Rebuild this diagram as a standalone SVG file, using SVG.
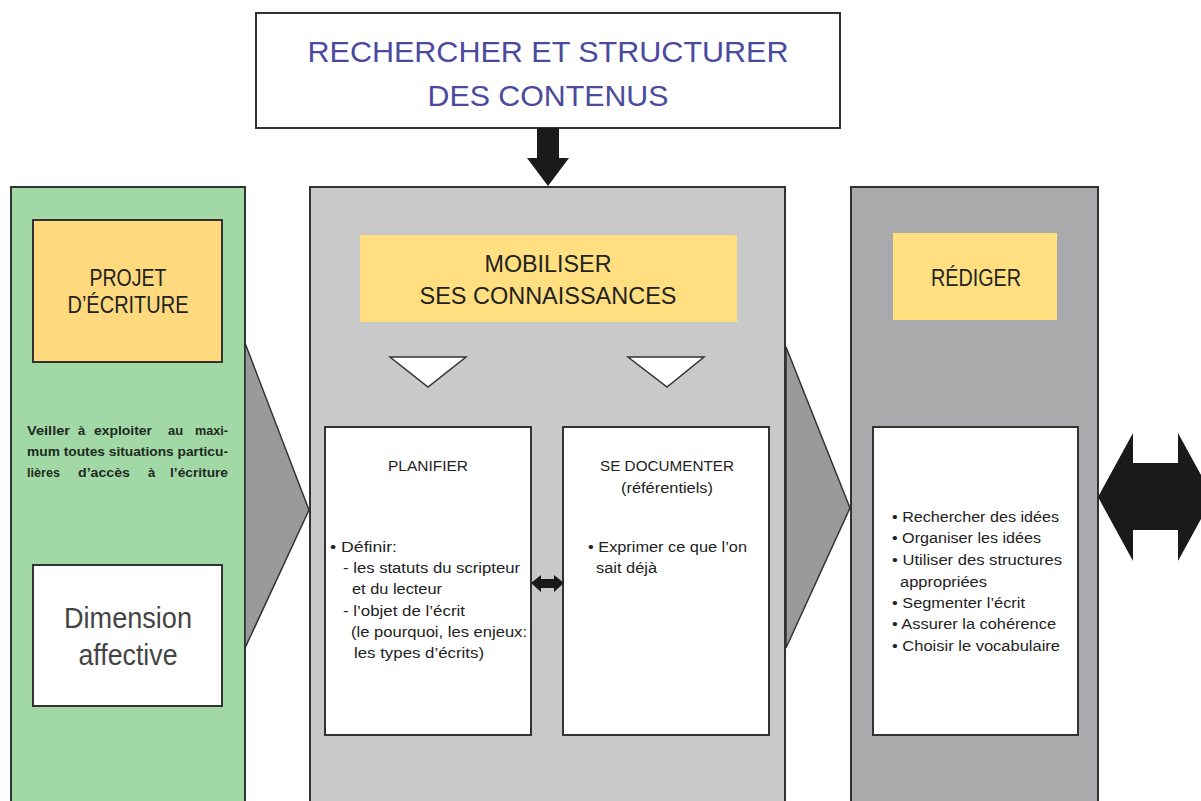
<svg xmlns="http://www.w3.org/2000/svg" width="1201" height="801" viewBox="0 0 1201 801">
<style>
  .t { font-family: "Liberation Sans", Arial, sans-serif; fill: #222; }
  .big { font-size: 30px; fill: #4a4a9e; }
  .hd { font-size: 23px; }
  .body { font-size: 14px; }
  .veil { font-size: 13px; font-weight: bold; fill: #1e2a1e; }
  .dim { font-size: 29px; fill: #444; }
  .frame { stroke: #333; stroke-width: 2; }
  .box { fill: #fff; stroke: #333; stroke-width: 2; }
  .yel { fill: #ffdf80; }
  .tri { fill: #9a9a9a; stroke: #333; stroke-width: 1.5; }
  .arr { fill: #1a1a1a; }
</style>
<rect width="1201" height="801" fill="#fff"/>

<g id="top-node">
  <rect x="256" y="13" width="584" height="115" class="box"/>
  <text class="t big" x="548" y="62" text-anchor="middle" textLength="481" lengthAdjust="spacingAndGlyphs">RECHERCHER ET STRUCTURER</text>
  <text class="t big" x="548" y="106" text-anchor="middle" textLength="241" lengthAdjust="spacingAndGlyphs">DES CONTENUS</text>
</g>

<g id="panel-left">
  <rect x="11" y="187" width="234" height="620" fill="#a2d8a6" class="frame"/>
  <rect x="33" y="220" width="189" height="142" fill="#ffd97e" stroke="#333" stroke-width="2"/>
  <text class="t hd" x="128" y="286" text-anchor="middle" textLength="77" lengthAdjust="spacingAndGlyphs">PROJET</text>
  <text class="t hd" x="128" y="313" text-anchor="middle" textLength="121" lengthAdjust="spacingAndGlyphs">D’ÉCRITURE</text>
  <text class="t veil">
    <tspan x="27" y="435" textLength="43" lengthAdjust="spacingAndGlyphs">Veiller</tspan>
    <tspan x="78" y="435">à</tspan>
    <tspan x="94" y="435" textLength="58" lengthAdjust="spacingAndGlyphs">exploiter</tspan>
    <tspan x="168" y="435">au</tspan>
    <tspan x="195" y="435" textLength="33" lengthAdjust="spacingAndGlyphs">maxi-</tspan>
  </text>
  <text class="t veil" x="27" y="456" textLength="201" lengthAdjust="spacingAndGlyphs">mum toutes situations particu-</text>
  <text class="t veil">
    <tspan x="27" y="477" textLength="33" lengthAdjust="spacingAndGlyphs">lières</tspan>
    <tspan x="78" y="477" textLength="52" lengthAdjust="spacingAndGlyphs">d’accès</tspan>
    <tspan x="148" y="477">à</tspan>
    <tspan x="170" y="477" textLength="58" lengthAdjust="spacingAndGlyphs">l’écriture</tspan>
  </text>
  <rect x="33" y="565" width="189" height="141" class="box"/>
  <text class="t dim" x="128" y="628" text-anchor="middle" textLength="128" lengthAdjust="spacingAndGlyphs">Dimension</text>
  <text class="t dim" x="128" y="665" text-anchor="middle" textLength="99" lengthAdjust="spacingAndGlyphs">affective</text>
</g>

<g id="panel-center">
  <rect x="310" y="187" width="475" height="620" fill="#c9c9c9" class="frame"/>
  <rect x="360" y="235" width="377" height="87" class="yel"/>
  <text class="t hd" x="548" y="272" text-anchor="middle" textLength="127" lengthAdjust="spacingAndGlyphs" font-size="25">MOBILISER</text>
  <text class="t hd" x="548" y="304" text-anchor="middle" textLength="257" lengthAdjust="spacingAndGlyphs" font-size="25">SES CONNAISSANCES</text>
  <polygon points="390,357 466,357 428,387" fill="#fff" stroke="#333" stroke-width="1.5"/>
  <polygon points="628,357 704,357 667,387" fill="#fff" stroke="#333" stroke-width="1.5"/>
</g>

<g id="node-planifier">
  <rect x="325" y="427" width="206" height="308" class="box"/>
  <text class="t body" x="428" y="471" text-anchor="middle" textLength="80" lengthAdjust="spacingAndGlyphs">PLANIFIER</text>
  <text class="t body" x="330" y="552" textLength="67" lengthAdjust="spacingAndGlyphs">• Définir:</text>
  <text class="t body" x="343" y="573" textLength="177" lengthAdjust="spacingAndGlyphs">- les statuts du scripteur</text>
  <text class="t body" x="352" y="594" textLength="90" lengthAdjust="spacingAndGlyphs">et du lecteur</text>
  <text class="t body" x="343" y="616" textLength="122" lengthAdjust="spacingAndGlyphs">- l’objet de l’écrit</text>
  <text class="t body" x="351" y="637" textLength="176" lengthAdjust="spacingAndGlyphs">(le pourquoi, les enjeux:</text>
  <text class="t body" x="354" y="658" textLength="130" lengthAdjust="spacingAndGlyphs">les types d’écrits)</text>
</g>

<g id="node-documenter">
  <rect x="563" y="427" width="206" height="308" class="box"/>
  <text class="t body" x="667" y="471" text-anchor="middle" textLength="134" lengthAdjust="spacingAndGlyphs">SE DOCUMENTER</text>
  <text class="t body" x="667" y="493" text-anchor="middle" textLength="92" lengthAdjust="spacingAndGlyphs">(référentiels)</text>
  <text class="t body" x="588" y="552" textLength="159" lengthAdjust="spacingAndGlyphs">• Exprimer ce que l’on</text>
  <text class="t body" x="596" y="573" textLength="61" lengthAdjust="spacingAndGlyphs">sait déjà</text>
</g>

<g id="panel-right">
  <rect x="851" y="187" width="247" height="620" fill="#aaaaac" class="frame"/>
  <rect x="893" y="233" width="164" height="87" class="yel"/>
  <text class="t hd" x="976" y="286" text-anchor="middle" textLength="90" lengthAdjust="spacingAndGlyphs">RÉDIGER</text>
</g>

<g id="node-rediger">
  <rect x="873" y="427" width="205" height="308" class="box"/>
  <text class="t body" x="892" y="522" textLength="167" lengthAdjust="spacingAndGlyphs">• Rechercher des idées</text>
  <text class="t body" x="892" y="543" textLength="149" lengthAdjust="spacingAndGlyphs">• Organiser les idées</text>
  <text class="t body" x="892" y="565" textLength="170" lengthAdjust="spacingAndGlyphs">• Utiliser des structures</text>
  <text class="t body" x="900" y="587" textLength="87" lengthAdjust="spacingAndGlyphs">appropriées</text>
  <text class="t body" x="892" y="608" textLength="133" lengthAdjust="spacingAndGlyphs">• Segmenter l’écrit</text>
  <text class="t body" x="892" y="629" textLength="164" lengthAdjust="spacingAndGlyphs">• Assurer la cohérence</text>
  <text class="t body" x="892" y="651" textLength="168" lengthAdjust="spacingAndGlyphs">• Choisir le vocabulaire</text>
</g>

<g id="connectors">
  <polygon class="arr" points="537,128 559,128 559,158 569,158 548,186 527,158 537,158"/>
  <polygon class="tri" points="245,343 309,510 245,648"/>
  <polygon class="tri" points="786,347 850,508 786,648"/>
  <polygon class="arr" points="531,583 541,575 541,579 554,579 554,575 564,583 554,592 554,588 541,588 541,592"/>
  <polygon class="arr" points="1098,497 1133,433 1133,463 1178,463 1178,433 1213,497 1178,561 1178,530 1133,530 1133,561"/>
</g>
</svg>
